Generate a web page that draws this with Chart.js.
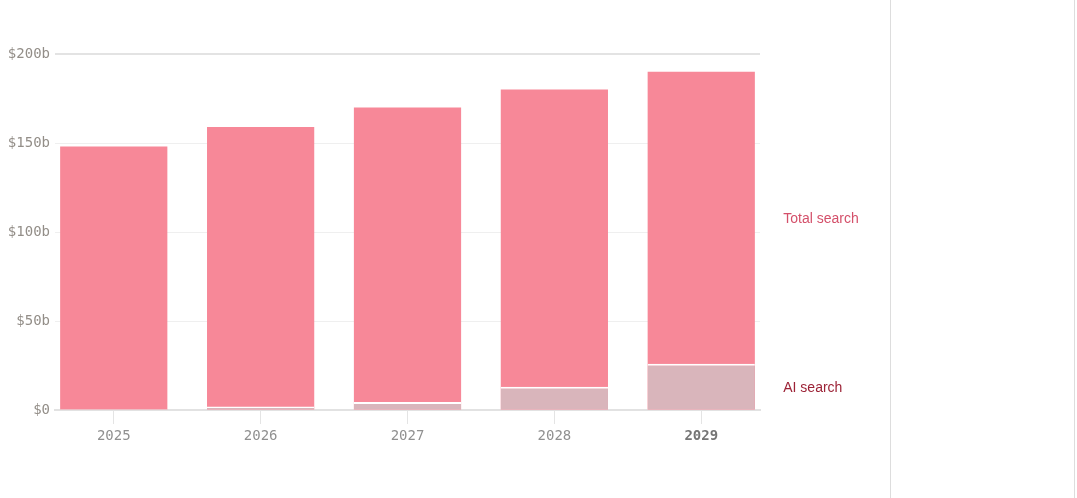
<!DOCTYPE html>
<html>
<head>
<meta charset="utf-8">
<script src="https://cdn.jsdelivr.net/npm/chart.js@4.4.1/dist/chart.umd.min.js"></script>
<style>
    html, body { margin: 0; padding: 0; background: #fff; }
    #wrap { position: relative; width: 1077px; height: 498px; }
    #box { position: absolute; left: 0; top: 0; width: 890px; height: 498px; }
    .rule { position: absolute; top: 0; width: 1px; height: 498px; background: #dddddd; }
</style>
</head>
<body>
<div id="wrap">
    <div id="box"><canvas id="searchChart" width="890" height="498"></canvas></div>
    <div class="rule" style="left:890px"></div>
    <div class="rule" style="left:1074px"></div>
</div>
<script>
const years = [2025, 2026, 2027, 2028, 2029];
const totalSearch = [148, 159, 170, 180, 190];
const aiSearch = [0.6, 2, 4.5, 13, 26];
const yTicks = [0, 50, 100, 150, 200];
const seriesNames = ["Total search", "AI search"];

const monoFont = "'DejaVu Sans Mono', 'Liberation Mono', monospace";

// labels at the middle of the last bar's segments
const endLabels = {
    id: 'endLabels',
    afterDatasetsDraw(chart) {
        const { ctx, scales: { x, y } } = chart;
        const last = years.length - 1;
        const px = x.getPixelForValue(years[last]) + 82;
        const spots = [
            { text: seriesNames[0], mid: (totalSearch[last] + aiSearch[last]) / 2, color: '#d4506a' },
            { text: seriesNames[1], mid: aiSearch[last] / 2, color: '#9c2236' }
        ];
        ctx.save();
        ctx.font = "14px 'Liberation Sans', Arial, sans-serif";
        ctx.textBaseline = 'middle';
        ctx.textAlign = 'left';
        spots.forEach(s => {
            ctx.fillStyle = s.color;
            ctx.fillText(s.text, px, y.getPixelForValue(s.mid) + 1);
        });
        ctx.restore();
    }
};

const ctx = document.getElementById('searchChart').getContext('2d');
new Chart(ctx, {
    type: 'bar',
    data: {
        datasets: [
            {
                label: seriesNames[1],
                data: years.map((yr, i) => ({ x: yr, y: aiSearch[i] })),
                backgroundColor: '#d9b5bb',
                borderColor: '#ffffff',
                borderWidth: { top: 2, left: 0, right: 0, bottom: 0 },
                borderSkipped: 'bottom',
                grouped: false,
                order: 0
            },
            {
                label: seriesNames[0],
                data: years.map((yr, i) => ({ x: yr, y: totalSearch[i] })),
                backgroundColor: '#f78898',
                borderWidth: 0,
                grouped: false,
                order: 1
            }
        ]
    },
    options: {
        responsive: false,
        animation: false,
        maintainAspectRatio: false,
        layout: { padding: { top: 54, right: 130, left: 0, bottom: 0 } },
        plugins: { legend: { display: false }, tooltip: { enabled: false } },
        datasets: { bar: { barPercentage: 1, categoryPercentage: 0.73 } },
        scales: {
            x: {
                type: 'linear',
                min: 2024.6,
                max: 2029.4,
                offset: false,
                afterBuildTicks: (scale) => { scale.ticks = years.map(v => ({ value: v })); },
                afterFit: (scale) => { scale.height = 88; },
                grid: { offset: false, drawOnChartArea: false, drawTicks: true, tickLength: 14, color: '#e4e4e4', lineWidth: 1 },
                border: { display: true, color: '#e2e2e2', width: 2 },
                ticks: {
                    padding: 4,
                    autoSkip: false,
                    maxRotation: 0,
                    callback: (v) => String(v),
                    color: (c) => c.tick && c.tick.value === 2029 ? '#757575' : '#909090',
                    font: (c) => ({
                        family: monoFont,
                        size: 14,
                        weight: c.tick && c.tick.value === 2029 ? 'bold' : 'normal'
                    })
                }
            },
            y: {
                min: 0,
                max: 200,
                afterBuildTicks: (scale) => { scale.ticks = yTicks.map(v => ({ value: v })); },
                afterFit: (scale) => { scale.width = 55; },
                grid: {
                    drawTicks: false,
                    color: (c) => c.tick && c.tick.value === 200 ? '#e3e3e3' : '#efefef',
                    lineWidth: (c) => c.tick && c.tick.value === 200 ? 2 : 1
                },
                border: { display: false },
                ticks: {
                    padding: 5,
                    color: '#938e88',
                    font: { family: monoFont, size: 14 },
                    callback: (v) => v === 0 ? '$0' : '$' + v + 'b'
                }
            }
        }
    },
    plugins: [endLabels]
});
</script>
</body>
</html>
